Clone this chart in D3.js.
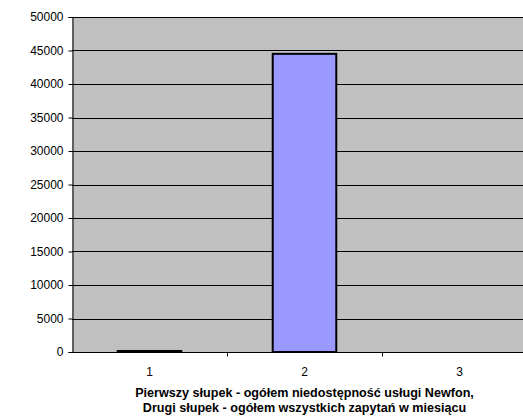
<!DOCTYPE html>
<html>
<head>
<meta charset="utf-8">
<script src="https://cdn.jsdelivr.net/npm/d3@7"></script>
<style>
  html, body { margin: 0; padding: 0; background: #fff; }
  svg { display: block; }
  text { font-family: "Liberation Sans", Arial, sans-serif; }
</style>
</head>
<body>
<script>
// Monthly totals: unavailability of the Newfon service vs. all queries
const categories = ["1", "2", "3"];
const values = [150, 44500, 0];
const yTicks = [0, 5000, 10000, 15000, 20000, 25000, 30000, 35000, 40000, 45000, 50000];
const titleLines = [
  "Pierwszy słupek - ogółem niedostępność usługi Newfon,",
  "Drugi słupek - ogółem wszystkich zapytań w miesiącu"
];

const W = 523, H = 420;
const plot = { left: 72, right: 537, top: 17, bottom: 352 };

const svg = d3.select("body").append("svg")
  .attr("width", W).attr("height", H);

const x = d3.scaleBand()
  .domain(categories)
  .range([plot.left, plot.right])
  .paddingInner(0.59)
  .paddingOuter(0.295);

const band = d3.scaleBand().domain(categories).range([plot.left, plot.right]);

const y = d3.scaleLinear().domain([0, 50000]).range([plot.bottom, plot.top]);

// plot area
svg.append("rect")
  .attr("x", plot.left).attr("y", plot.top)
  .attr("width", plot.right - plot.left).attr("height", plot.bottom - plot.top)
  .attr("fill", "#c0c0c0");

// horizontal gridlines
svg.append("g").selectAll("line")
  .data(yTicks.filter(d => d > 0))
  .join("line")
  .attr("x1", plot.left).attr("x2", plot.right)
  .attr("y1", d => Math.round(y(d)) + 0.5).attr("y2", d => Math.round(y(d)) + 0.5)
  .attr("stroke", "#000").attr("stroke-width", 1);

// bars
svg.append("g").selectAll("rect")
  .data(values.map((v, i) => ({ c: categories[i], v })).filter(d => d.v > 0))
  .join("rect")
  .attr("x", d => x(d.c))
  .attr("width", x.bandwidth())
  .attr("y", d => y(d.v))
  .attr("height", d => y(0) - y(d.v))
  .attr("fill", "#9999ff")
  .attr("stroke", "#000")
  .attr("stroke-width", 2);

// y axis
const yAxis = svg.append("g")
  .attr("transform", `translate(${plot.left + 0.5},0)`)
  .call(d3.axisLeft(y).tickValues(yTicks).tickSize(4).tickPadding(5).tickFormat(d3.format("d")));
yAxis.select(".domain").attr("stroke", "#000");
yAxis.selectAll(".tick line").attr("stroke", "#000");
yAxis.selectAll("text").attr("font-size", 12).attr("fill", "#000")
  .attr("font-family", "'Liberation Sans', Arial, sans-serif");

// x axis with ticks at band boundaries
const xAxisG = svg.append("g").attr("transform", `translate(0,${plot.bottom + 0.5})`);
xAxisG.append("line")
  .attr("x1", plot.left).attr("x2", plot.right)
  .attr("stroke", "#000");
xAxisG.selectAll("line.tick")
  .data(categories.slice(1))
  .join("line").attr("class", "tick")
  .attr("x1", d => Math.round(band(d)) + 0.5).attr("x2", d => Math.round(band(d)) + 0.5)
  .attr("y1", 0).attr("y2", 4)
  .attr("stroke", "#000");
xAxisG.selectAll("text")
  .data(categories)
  .join("text")
  .attr("x", d => band(d) + band.bandwidth() / 2)
  .attr("y", 23)
  .attr("text-anchor", "middle")
  .attr("font-size", 12)
  .text(d => d);

// caption under the axis
const cx = (plot.left + plot.right) / 2;
svg.append("g").selectAll("text")
  .data(titleLines)
  .join("text")
  .attr("x", cx)
  .attr("y", (d, i) => 397 + i * 15)
  .attr("text-anchor", "middle")
  .attr("font-size", 12.6)
  .attr("font-weight", "bold")
  .text(d => d);
</script>
</body>
</html>
